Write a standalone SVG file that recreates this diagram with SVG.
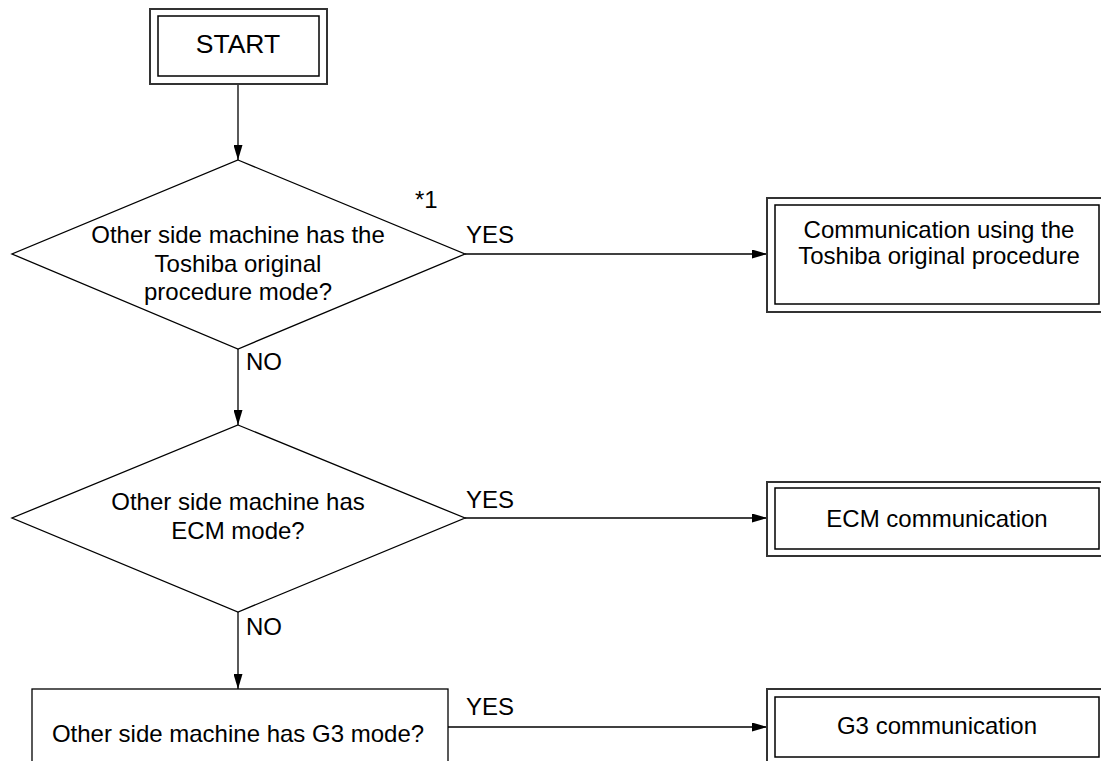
<svg xmlns="http://www.w3.org/2000/svg" width="1101" height="761" viewBox="0 0 1101 761">
<style>
.t{font-family:"Liberation Sans",Arial,sans-serif;font-size:24px;fill:#000}
.c{text-anchor:middle}
.outer{fill:none;stroke:#333;stroke-width:2}
.inner{fill:none;stroke:#000;stroke-width:1.5}
.shape{fill:#fff;stroke:#000;stroke-width:1.3}
.ln{fill:none;stroke:#000;stroke-width:1.3}
</style>
<defs>
<marker id="ah" viewBox="0 0 15 9" refX="15" refY="4.5" markerWidth="15" markerHeight="9" markerUnits="userSpaceOnUse" orient="auto">
<path d="M0,0 L15,4.5 L0,9 Z" fill="#000"/>
</marker>
</defs>
<rect width="1101" height="761" fill="#fff"/>
<g id="connectors">
<line class="ln" x1="238" y1="84" x2="238" y2="160" marker-end="url(#ah)"/>
<line class="ln" x1="238" y1="349" x2="238" y2="425" marker-end="url(#ah)"/>
<line class="ln" x1="238" y1="612" x2="238" y2="689" marker-end="url(#ah)"/>
<line class="ln" x1="465" y1="254" x2="767" y2="254" marker-end="url(#ah)"/>
<line class="ln" x1="465" y1="518" x2="767" y2="518" marker-end="url(#ah)"/>
<line class="ln" x1="448" y1="727" x2="767" y2="727" marker-end="url(#ah)"/>
<text class="t" x="466" y="243">YES</text>
<text class="t" x="246" y="370">NO</text>
<text class="t" x="466" y="508">YES</text>
<text class="t" x="246" y="635">NO</text>
<text class="t" x="466" y="715">YES</text>
</g>
<g id="start">
<rect class="outer" x="150" y="9" width="177" height="75"/>
<rect class="inner" x="158" y="16" width="161" height="60"/>
<text class="t c" x="238" y="53" style="font-size:26.5px">START</text>
</g>
<g id="decision1">
<polygon class="shape" points="238,160 465,254 238,349 12,254"/>
<text class="t c" x="238" y="243">Other side machine has the</text>
<text class="t c" x="238" y="272">Toshiba original</text>
<text class="t c" x="238" y="300">procedure mode?</text>
<text class="t" x="415" y="208">*1</text>
</g>
<g id="toshiba">
<rect class="outer" x="767" y="198" width="340" height="114"/>
<rect class="inner" x="775" y="205" width="324" height="99"/>
<text class="t c" x="939" y="238">Communication using the</text>
<text class="t c" x="939" y="264">Toshiba original procedure</text>
</g>
<g id="decision2">
<polygon class="shape" points="238,425 465,518 238,612 12,518"/>
<text class="t c" x="238" y="510">Other side machine has</text>
<text class="t c" x="238" y="539">ECM mode?</text>
</g>
<g id="ecm">
<rect class="outer" x="767" y="482" width="340" height="74"/>
<rect class="inner" x="775" y="488" width="324" height="61"/>
<text class="t c" x="937" y="527">ECM communication</text>
</g>
<g id="decision3">
<rect class="shape" x="32" y="689" width="416" height="80"/>
<text class="t c" x="238" y="742">Other side machine has G3 mode?</text>
</g>
<g id="g3">
<rect class="outer" x="767" y="689" width="340" height="80"/>
<rect class="inner" x="775" y="697" width="324" height="60"/>
<text class="t c" x="937" y="734">G3 communication</text>
</g>
</svg>
